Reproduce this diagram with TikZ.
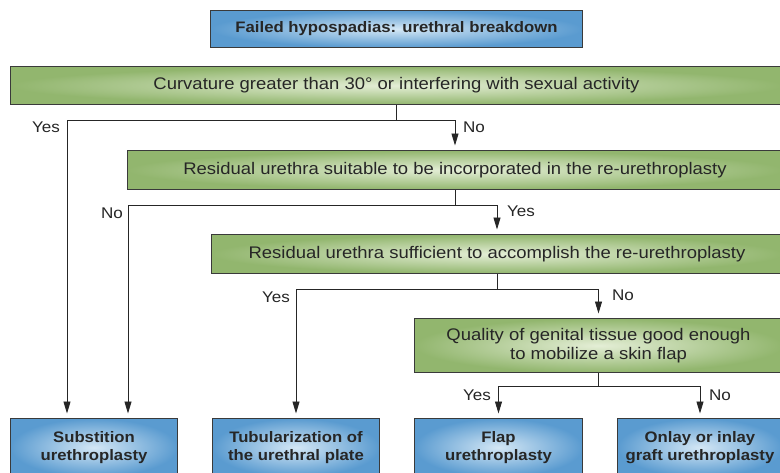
\documentclass[tikz,border=0pt]{standalone}
\usepackage{fontspec}
\setmainfont[FakeStretch=1.1]{Liberation Sans}
\usetikzlibrary{arrows.meta}
\definecolor{bluedark}{HTML}{5A9BD0}
\definecolor{bluelight}{HTML}{D4E7F5}
\definecolor{greendark}{HTML}{92B66E}
\definecolor{greenlight}{HTML}{E4EED6}
\definecolor{edgecol}{HTML}{3A3A3A}
\definecolor{ink}{HTML}{262626}
\begin{document}
\begin{tikzpicture}[x=1pt,y=-1pt,
  bluebox/.style={draw=edgecol,line width=1pt,inner color=bluelight,outer color=bluedark,
    font=\fontsize{15.2}{18.5}\selectfont\bfseries,text=ink,align=center,anchor=north west,inner sep=0pt},
  greenbox/.style={draw=edgecol,line width=1pt,inner color=greenlight,outer color=greendark,
    font=\fontsize{16.8}{19}\selectfont,text=ink,align=center,anchor=north west,inner sep=0pt},
  conn/.style={draw=ink,line width=0.9pt},
  arr/.style={conn,-{Triangle[width=7pt,length=12pt]},shorten >=4.5pt},
  lbl/.style={font=\fontsize{15.5}{18}\selectfont,text=ink,inner sep=0pt}
]
\useasboundingbox (0,0) rectangle (780,472);

\node[bluebox,minimum width=372pt,minimum height=37pt] (top) at (210,10) {Failed hypospadias: urethral breakdown};

\node[greenbox,minimum width=772pt,minimum height=38pt] (g1) at (10,66) {Curvature greater than 30° or interfering with sexual activity};
\node[greenbox,minimum width=655pt,minimum height=39pt] (g2) at (127,150) {Residual urethra suitable to be incorporated in the re-urethroplasty};
\node[greenbox,minimum width=571pt,minimum height=39pt] (g3) at (211,234) {Residual urethra sufficient to accomplish the re-urethroplasty};
\node[greenbox,minimum width=368pt,minimum height=54pt] (g4) at (414,318) {Quality of genital tissue good enough\\to mobilize a skin flap};

\node[bluebox,minimum width=167pt,minimum height=58pt] (bA) at (10,418) {Substition\\urethroplasty};
\node[bluebox,minimum width=167pt,minimum height=58pt] (bB) at (212,418) {Tubularization of\\the urethral plate};
\node[bluebox,minimum width=168pt,minimum height=58pt] (bC) at (414,418) {Flap\\urethroplasty};
\node[bluebox,minimum width=165pt,minimum height=58pt] (bD) at (617,418) {Onlay or inlay\\graft urethroplasty};

% level 1
\draw[conn] (g1.south) -- ++(0,15) coordinate (j1);
\draw[arr] (j1) -| ([xshift=57pt]bA.north west);
\draw[arr] (j1) -| (g2.north);
% level 2
\draw[conn] (g2.south) -- ++(0,15) coordinate (j2);
\draw[arr] (j2) -| ([xshift=118pt]bA.north west);
\draw[arr] (j2) -| (g3.north);
% level 3
\draw[conn] (g3.south) -- ++(0,15) coordinate (j3);
\draw[arr] (j3) -| (bB.north);
\draw[arr] (j3) -| (g4.north);
% level 4
\draw[conn] (g4.south) -- ++(0,13) coordinate (j4);
\draw[arr] (j4) -| (bC.north);
\draw[arr] (j4) -| (bD.north);

% labels
\node[lbl] (y1) at (46,127) {Yes};
\node[lbl] (n1) at (474,127) {No};
\node[lbl] (n2) at (112,213) {No};
\node[lbl] (y2) at (521,211) {Yes};
\node[lbl] (y3) at (276,297) {Yes};
\node[lbl] (n3) at (623,295) {No};
\node[lbl] (y4) at (477,395) {Yes};
\node[lbl] (n4) at (720,395) {No};
\end{tikzpicture}
\end{document}
